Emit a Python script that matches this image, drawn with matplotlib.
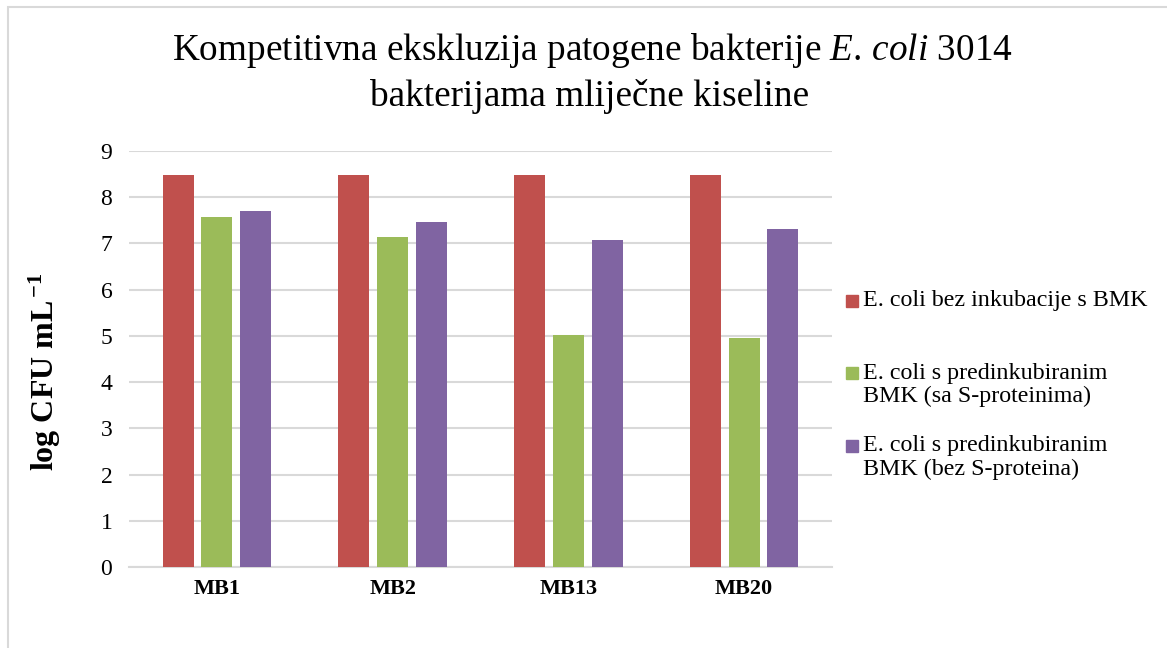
import matplotlib.pyplot as plt
import matplotlib.patches as mpatches
import numpy as np

plt.rcParams['font.family'] = ['Liberation Serif', 'DejaVu Serif']
plt.rcParams['mathtext.fontset'] = 'custom'
plt.rcParams['mathtext.rm'] = 'Liberation Serif'
plt.rcParams['mathtext.it'] = 'Liberation Serif:italic'
plt.rcParams['mathtext.bf'] = 'Liberation Serif:bold'

# podaci
sojevi = ['MB1', 'MB2', 'MB13', 'MB20']
bez_inkubacije = [8.47, 8.47, 8.47, 8.47]
sa_s_proteinima = [7.57, 7.14, 5.01, 4.96]
bez_s_proteina = [7.71, 7.46, 7.08, 7.32]
oznake = [['E. coli bez inkubacije s BMK'],
          ['E. coli s predinkubiranim', 'BMK (sa S-proteinima)'],
          ['E. coli s predinkubiranim', 'BMK (bez S-proteina)']]
boje = ['#C0504D', '#9BBB59', '#8064A2']

W, H = 1167, 648
def px(x, y):
    # piksel -> koordinate figure
    return x / W, 1 - y / H

fig = plt.figure(figsize=(W / 100, H / 100), dpi=100)
ax = fig.add_axes([129 / W, 1 - 567 / H, (832 - 129) / W, (567 - 151) / H])

x = np.arange(len(sojevi))
w = 0.176
serije = [bez_inkubacije, sa_s_proteinima, bez_s_proteina]
for i, (vals, c) in enumerate(zip(serije, boje)):
    ax.bar(x + (i - 1) * 0.22, vals, w, color=c, zorder=3)

ax.set_xlim(-0.5, len(sojevi) - 0.5)
ax.set_ylim(0, 9)
ax.set_yticks(range(10))
ax.set_xticks(x)
ax.set_xticklabels(sojevi, fontsize=16, fontweight='bold')
ax.tick_params(axis='y', labelsize=17, length=0, pad=12)
ax.tick_params(axis='x', length=0, pad=9)
ax.grid(axis='y', color='#d9d9d9', linewidth=1.5, zorder=0)
for s in ['top', 'right', 'left']:
    ax.spines[s].set_visible(False)
ax.spines['bottom'].set_color('#d9d9d9')
ax.spines['bottom'].set_linewidth(1.5)

fig.text(*px(45, 372), 'log CFU mL$^{\\,\\mathbf{-1}}$', rotation=90, ha='center', va='center',
         fontsize=23, fontweight='bold')

# naslov
fig.text(*px(592, 50), 'Kompetitivna ekskluzija patogene bakterije $\\mathit{E.\\,coli}$ 3014',
         ha='center', va='center', fontsize=26.8)
fig.text(*px(590, 97), 'bakterijama mliječne kiseline', ha='center', va='center', fontsize=26.8)

# legenda
y_prvi = [301, 373, 446]
for linije, c, y0 in zip(oznake, boje, y_prvi):
    fig.patches.append(mpatches.Rectangle(px(846, y0 + 6), 12 / W, 12 / H,
                                          transform=fig.transFigure, color=c))
    for k, t in enumerate(linije):
        fig.text(*px(863, y0 + 23 * k), t, ha='left', va='center', fontsize=17.3)

fig.patches.append(mpatches.Rectangle((8 / W, -0.1), 1.2, 1 - 7 / H + 0.1,
                                      transform=fig.transFigure, fill=False,
                                      edgecolor='#d9d9d9', linewidth=1.5))

fig.savefig('out.png', dpi=100)
